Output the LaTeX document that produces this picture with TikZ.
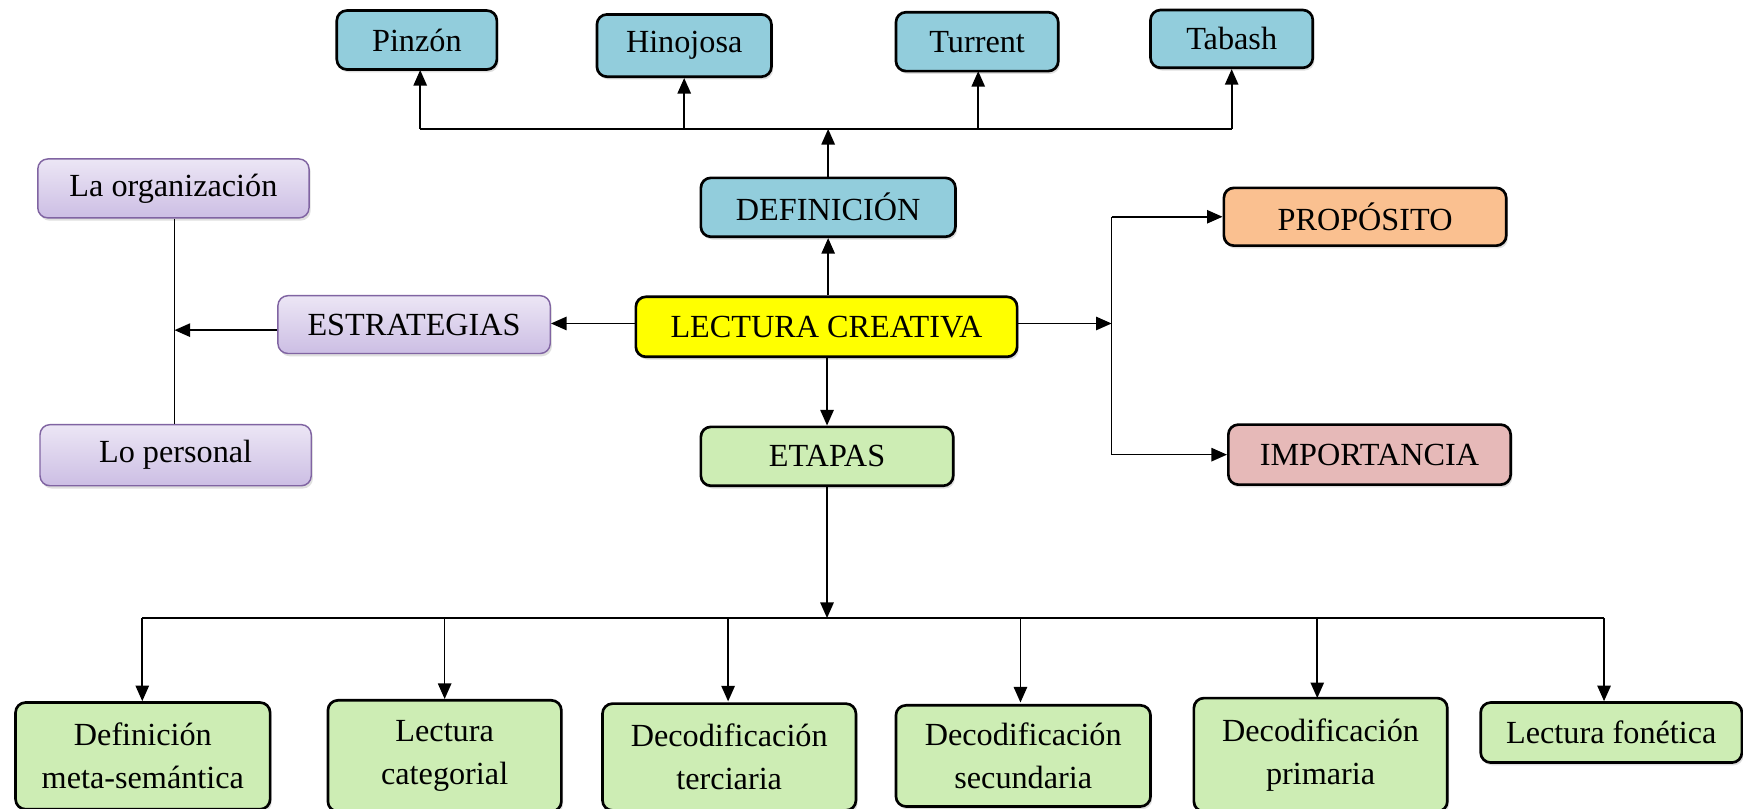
\documentclass[tikz,border=0pt]{standalone}
\usepackage{fontspec}
\setmainfont{Liberation Serif}
\usetikzlibrary{arrows.meta,shadows}
\definecolor{cblue}{RGB}{146,205,220}
\definecolor{cyellow}{RGB}{255,255,0}
\definecolor{cgreen}{RGB}{205,237,180}
\definecolor{corange}{RGB}{250,192,144}
\definecolor{cpink}{RGB}{230,185,184}
\definecolor{cpurtop}{RGB}{236,230,245}
\definecolor{cpurbot}{RGB}{204,190,228}
\definecolor{cpurline}{RGB}{128,100,162}
\begin{document}
\begin{tikzpicture}[x=1pt,y=-1pt,
  box/.style={draw=black,line width=2.4pt,rounded corners=9pt,inner sep=0pt,
    font=\fontsize{29}{39}\selectfont,align=center,
    drop shadow={opacity=0.25,shadow xshift=1.5pt,shadow yshift=-2.5pt}},
  bluebox/.style={box,fill=cblue},
  yelbox/.style={box,fill=cyellow},
  grebox/.style={box,fill=cgreen},
  orabox/.style={box,fill=corange},
  pinbox/.style={box,fill=cpink},
  purbox/.style={box,draw=cpurline,line width=1.3pt,top color=cpurtop,bottom color=cpurbot},
  conn/.style={line width=1.5pt},
  arr/.style={conn,-{Triangle[length=14pt,width=12pt]}}]
\useasboundingbox (0,0) rectangle (1568,727);
\fill[white] (0,0) rectangle (1568,727);

% top row
\node[bluebox,minimum width=144pt,minimum height=53pt] (pinzon) at (375,36) {Pinzón};
\node[bluebox,minimum width=157pt,minimum height=56pt] (hinojosa) at (615.5,41) {Hinojosa};
\node[bluebox,minimum width=146pt,minimum height=53pt] (turrent) at (879,37.5) {Turrent};
\node[bluebox,minimum width=146pt,minimum height=52pt] (tabash) at (1108,35) {Tabash};

% center column
\node[bluebox,minimum width=229pt,minimum height=53pt] (definicion) at (745,186.5) {DEFINICIÓN};
\node[yelbox,minimum width=343pt,minimum height=54pt] (lectura) at (743.5,294) {LECTURA CREATIVA};
\node[grebox,minimum width=227pt,minimum height=53pt] (etapas) at (744,410.5) {ETAPAS};

% left
\node[purbox,minimum width=245pt,minimum height=52pt] (estrategias) at (372.5,292) {ESTRATEGIAS};
\node[purbox,minimum width=244pt,minimum height=53pt] (laorg) at (156,169.5) {La organización};
\node[purbox,minimum width=244pt,minimum height=55pt] (lopers) at (158,409.5) {Lo personal};

% right
\node[orabox,minimum width=254pt,minimum height=52pt] (proposito) at (1228,195) {PROPÓSITO};
\node[pinbox,minimum width=254pt,minimum height=54pt] (importancia) at (1232,409) {IMPORTANCIA};

% bottom row
\node[grebox,minimum width=229pt,minimum height=96pt] (b1) at (128.5,680) {Definición\\meta-semántica};
\node[grebox,minimum width=210pt,minimum height=100pt] (b2) at (400,680) {Lectura\\categorial};
\node[grebox,minimum width=228pt,minimum height=96pt] (b3) at (656,681) {Decodificación\\terciaria};
\node[grebox,minimum width=229pt,minimum height=91pt] (b4) at (920.5,680) {Decodificación\\secundaria};
\node[grebox,minimum width=228pt,minimum height=102pt] (b5) at (1188,679) {Decodificación\\primaria};
\node[grebox,minimum width=235pt,minimum height=54pt] (b6) at (1449.5,659) {Lectura fonética};

% coordinates
\coordinate (tbus) at (745,116);
\coordinate (lbus) at (157,297);
\coordinate (rbus) at (1000,291);
\coordinate (rtop) at (1000,195);
\coordinate (rbot) at (1000,409);
\coordinate (bbus) at (744,556);
\coordinate (bbl) at (128,556);
\coordinate (bbr) at (1443,556);

% top connectors
\draw[arr] (definicion.north) -- (tbus);
\draw[conn] (378,116) -- (1108,116);
\draw[arr] (378,116) -- (378,63);
\draw[arr] (hinojosa.south |- tbus) -- (hinojosa.south);
\draw[arr] (880,116) -- (880,64);
\draw[arr] (tabash.south |- tbus) -- (tabash.south);

\draw[arr] (definicion.south |- lectura.north) -- (definicion.south);
\draw[arr] (etapas.north |- lectura.south) -- (etapas.north);

% left connectors
\draw[arr] (lectura.west |- 0,291) -- (estrategias.east |- 0,291);
\draw[conn] (laorg.south -| lbus) -- (lopers.north -| lbus);
\draw[arr] (estrategias.west |- lbus) -- (lbus);

% right connectors
\draw[arr] (lectura.east |- rbus) -- (rbus);
\draw[conn] (rtop) -- (rbot);
\draw[arr] (rtop) -- (proposito.west);
\draw[arr] (rbot) -- (importancia.west);

% bottom connectors
\draw[arr] (etapas.south) -- (bbus);
\draw[conn] (bbl) -- (bbr);
\draw[arr] (bbl) -- (b1.north -| bbl);
\draw[arr] (400,556) -- (b2.north);
\draw[arr] (655,556) -- (655,631);
\draw[arr] (918,556) -- (918,632);
\draw[arr] (1185,556) -- (1185,628);
\draw[arr] (bbr) -- (b6.north -| bbr);
\end{tikzpicture}
\end{document}
